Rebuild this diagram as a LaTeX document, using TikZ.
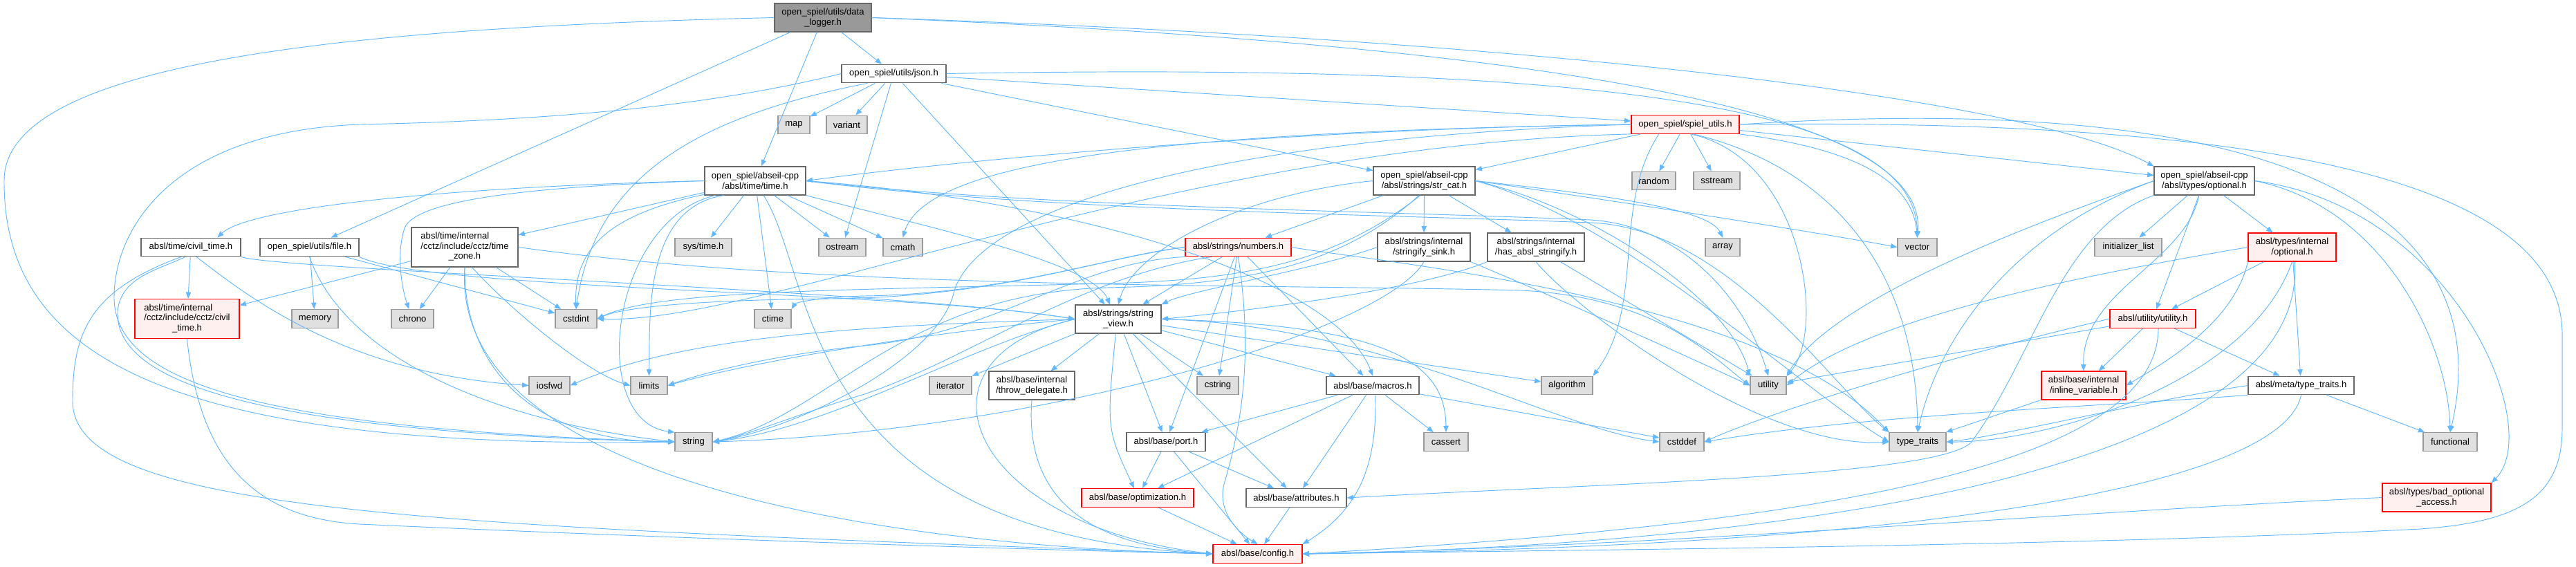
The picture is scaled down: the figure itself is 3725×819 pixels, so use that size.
\documentclass[tikz,border=0pt]{standalone}
\usepackage{fontspec}
\setmainfont{Liberation Sans}
\usepackage{tikz}
\usetikzlibrary{arrows.meta}

\definecolor{edgeblue}{HTML}{63B8FF}
\definecolor{sysfill}{HTML}{E0E0E0}
\definecolor{sysline}{HTML}{999999}
\definecolor{hdrline}{HTML}{666666}
\definecolor{truncfill}{HTML}{FFF0F0}
\definecolor{truncline}{HTML}{FF0000}
\definecolor{rootfill}{HTML}{999999}

\begin{document}
\begin{tikzpicture}[
x=0.75pt, y=-0.75pt,
hdr/.style={draw=hdrline, fill=white, line width=0.9pt, inner sep=1pt, align=center, font=\fontsize{9.8}{10.8}\selectfont, minimum height=20pt},
sys/.style={hdr, draw=sysline, fill=sysfill},
trunc/.style={hdr, draw=truncline, fill=truncfill},
root/.style={hdr, fill=rootfill},
bw/.style={minimum width=#1*0.75pt},
two/.style={minimum height=30.75pt},
three/.style={minimum height=42.75pt},
arrow/.style={-{Triangle[length=7pt,width=5.5pt]}, edgeblue, line width=0.7pt}
]
\useasboundingbox (0,0) rectangle (3725,819);
\fill[white] (0,0) rectangle (3725,819);

% rows of the include graph
\node[root, bw=140, two] (logger) at (1190,25.5) {open\_spiel/utils/data\\\_logger.h};
\node[hdr, bw=151] (json) at (1292.5,106.5) {open\_spiel/utils/json.h};
\node[sys, bw=46] (map) at (1148,180.5) {map};
\node[sys, bw=59] (variant) at (1224.5,180.5) {variant};
\node[trunc, bw=156] (spielutils) at (2437,180) {open\_spiel/spiel\_utils.h};
\node[hdr, bw=146, two] (time) at (1092,261.5) {open\_spiel/abseil-cpp\\/absl/time/time.h};
\node[hdr, bw=147, two] (strcat) at (2059.5,261.5) {open\_spiel/abseil-cpp\\/absl/strings/str\_cat.h};
\node[sys, bw=63] (random) at (2391.5,261.5) {random};
\node[sys, bw=67] (sstream) at (2482.5,261.5) {sstream};
\node[hdr, bw=145, two] (optional) at (3187.5,261.5) {open\_spiel/abseil-cpp\\/absl/types/optional.h};
\node[hdr, bw=144] (civiltime) at (276,357.5) {absl/time/civil\_time.h};
\node[hdr, bw=143] (file) at (447.5,357.5) {open\_spiel/utils/file.h};
\node[hdr, bw=154, three] (timezone) at (672,357.5) {\begin{tabular}{@{}l@{}}absl/time/internal\\/cctz/include/cctz/time\\\multicolumn{1}{@{}c@{}}{\_zone.h}\end{tabular}};
\node[sys, bw=82] (systime) at (1017,357.5) {sys/time.h};
\node[sys, bw=68] (ostream) at (1218,357.5) {ostream};
\node[sys, bw=57] (cmath) at (1305.5,357.5) {cmath};
\node[trunc, bw=153] (numbers) at (1790.5,357.5) {absl/strings/numbers.h};
\node[hdr, bw=134, two] (sink) at (2059,357.5) {absl/strings/internal\\/stringify\_sink.h};
\node[hdr, bw=140, two] (hasstringify) at (2221,357.5) {absl/strings/internal\\/has\_absl\_stringify.h};
\node[sys, bw=50] (array) at (2491,357.5) {array};
\node[sys, bw=57] (vector) at (2772.5,357.5) {vector};
\node[sys, bw=97] (initlist) at (3077.5,357.5) {initializer\_list};
\node[trunc, bw=127, two] (intoptional) at (3314.5,357.5) {absl/types/internal\\/optional.h};
\node[trunc, bw=151, three] (cctzcivil) at (270.5,461) {\begin{tabular}{@{}l@{}}absl/time/internal\\/cctz/include/cctz/civil\\\multicolumn{1}{@{}c@{}}{\_time.h}\end{tabular}};
\node[sys, bw=67] (memory) at (455.5,461) {memory};
\node[sys, bw=61] (chrono) at (596.5,461) {chrono};
\node[sys, bw=60] (cstdint) at (833,461) {cstdint};
\node[sys, bw=53] (ctime) at (1117.5,461) {ctime};
\node[hdr, bw=124, two] (stringview) at (1617,461.5) {absl/strings/string\\\_view.h};
\node[trunc, bw=124] (utilityh) at (3113,461) {absl/utility/utility.h};
\node[sys, bw=59] (iosfwd) at (794.5,557.5) {iosfwd};
\node[sys, bw=53] (limits) at (938.5,557.5) {limits};
\node[sys, bw=61] (iterator) at (1374.5,557.5) {iterator};
\node[hdr, bw=124, two] (throwdel) at (1492,557.5) {absl/base/internal\\/throw\_delegate.h};
\node[sys, bw=60] (cstring) at (1761,557.5) {cstring};
\node[hdr, bw=134] (macros) at (1985,557.5) {absl/base/macros.h};
\node[sys, bw=74] (algorithm) at (2266,557.5) {algorithm};
\node[sys, bw=52] (utility) at (2557,557.5) {utility};
\node[trunc, bw=122, two] (inlinevar) at (3013,557.5) {absl/base/internal\\/inline\_variable.h};
\node[hdr, bw=153] (metatraits) at (3327.5,557.5) {absl/meta/type\_traits.h};
\node[sys, bw=54] (string) at (1003,639) {string};
\node[hdr, bw=114] (port) at (1686,639) {absl/base/port.h};
\node[sys, bw=64] (cassert) at (2091,639) {cassert};
\node[sys, bw=64] (cstddef) at (2432,639) {cstddef};
\node[sys, bw=82] (typetraits) at (2773,639) {type\_traits};
\node[sys, bw=78] (functional) at (3543,639) {functional};
\node[trunc, bw=162] (optimization) at (1645,720) {absl/base/optimization.h};
\node[hdr, bw=145] (attributes) at (1874.5,720) {absl/base/attributes.h};
\node[trunc, bw=157, two] (badaccess) at (3523.5,719.5) {absl/types/bad\_optional\\\_access.h};
\node[trunc, bw=129] (config) at (1818.5,801) {absl/base/config.h};

% short includes
\foreach \a/\b in {logger/file, logger/time, logger/json, json/map, json/variant, json/ostream,
  json/stringview, json/strcat, json/spielutils, time/timezone, time/systime, time/ostream,
  time/cmath, time/ctime, civiltime/cctzcivil, file/memory, file/cstdint, timezone/cctzcivil,
  timezone/chrono, timezone/cstdint, spielutils/random, spielutils/sstream, spielutils/strcat,
  spielutils/optional, strcat/numbers, strcat/sink, strcat/hasstringify, numbers/stringview,
  numbers/cstring, numbers/macros, numbers/port, hasstringify/utility, stringview/throwdel,
  stringview/cstring, stringview/macros, stringview/port, stringview/attributes,
  stringview/algorithm, macros/cassert, macros/cstddef, macros/port, macros/optimization,
  macros/attributes, port/optimization, port/attributes, port/config, optimization/config,
  attributes/config, optional/initlist, optional/intoptional, optional/utilityh,
  intoptional/utilityh, intoptional/metatraits, utilityh/utility, utilityh/inlinevar,
  utilityh/metatraits, metatraits/functional, inlinevar/typetraits}
  \draw[arrow] (\a) -- (\b);
\draw[arrow] (stringview.south west) -- (iterator.north east);

% long includes
\draw[arrow] (logger.west) .. controls (500,40) and (8,90) .. (6,260) .. controls (4,520) and (250,650) .. (string.west);
\draw[arrow] (logger.east) .. controls (2100,60) and (2790,140) .. (vector.north);
\draw[arrow] (logger.east) .. controls (2300,60) and (2950,150) .. (optional.north west);

\draw[arrow] (json.west) .. controls (1000,160) and (750,175) .. (520,180) .. controls (250,190) and (165,330) .. (165,430) .. controls (165,560) and (400,620) .. (string.west);
\draw[arrow] (json.200) .. controls (1000,170) and (860,260) .. (cstdint.north);
\draw[arrow] (json.east) .. controls (2300,90) and (2770,150) .. (vector.north);

\draw[arrow] (time.west) .. controls (650,270) and (360,300) .. (civiltime.20);
\draw[arrow] (time.west) .. controls (760,270) and (600,290) .. (585,330) .. controls (572,370) and (582,420) .. (chrono.110);
\draw[arrow] (time.195) .. controls (880,310) and (830,360) .. (cstdint.north);
\draw[arrow] (time.200) .. controls (880,320) and (850,610) .. (string.north west);
\draw[arrow] (time.205) .. controls (930,300) and (940,460) .. (limits.north);
\draw[arrow] (time.south east) .. controls (1350,330) and (1580,380) .. (stringview.120);
\draw[arrow] (time.east) .. controls (1550,290) and (1930,400) .. (macros.north);
\draw[arrow] (time.300) .. controls (1180,400) and (1150,770) .. (config.west);
\draw[arrow] (time.east) .. controls (1500,300) and (2000,305) .. (2300,318) .. controls (2420,325) and (2520,420) .. (utility.north);
\draw[arrow] (time.east) .. controls (1500,305) and (2000,310) .. (2300,322) .. controls (2500,330) and (2650,560) .. (typetraits.north west);

\draw[arrow] (civiltime.300) .. controls (360,430) and (500,540) .. (iosfwd.west);
\draw[arrow] (civiltime.240) .. controls (230,390) and (175,400) .. (170,450) .. controls (165,560) and (400,625) .. (string.west);
\draw[arrow] (civiltime.225) .. controls (130,420) and (105,480) .. (105,580) .. controls (105,740) and (600,760) .. (config.west);
\draw[arrow] (civiltime.south east) .. controls (400,390) and (1300,420) .. (stringview.west);
\draw[arrow] (cctzcivil.south) .. controls (290,680) and (380,750) .. (520,758) .. controls (1000,780) and (1500,795) .. (config.west);

\draw[arrow] (file.south) .. controls (500,520) and (720,610) .. (string.west);
\draw[arrow] (file.south east) .. controls (620,420) and (1300,420) .. (stringview.west);

\draw[arrow] (timezone.290) .. controls (740,450) and (850,540) .. (limits.west);
\draw[arrow] (timezone.south) .. controls (670,520) and (760,640) .. (string.west);
\draw[arrow] (timezone.east) .. controls (1200,420) and (1800,410) .. (2200,420) .. controls (2400,430) and (2480,520) .. (utility.west);
\draw[arrow] (timezone.south) .. controls (650,700) and (1300,790) .. (config.west);

\draw[arrow] (spielutils.west) .. controls (1900,185) and (1400,230) .. (time.east);
\draw[arrow] (spielutils.west) .. controls (1700,190) and (1340,230) .. (cmath.north);
\draw[arrow] (spielutils.190) .. controls (1700,210) and (1100,470) .. (cstdint.east);
\draw[arrow] (spielutils.west) .. controls (1750,200) and (1420,300) .. (1380,420) .. controls (1360,520) and (1150,620) .. (string.east);
\draw[arrow] (spielutils.south east) .. controls (2680,215) and (2765,260) .. (vector.north);
\draw[arrow] (spielutils.300) .. controls (2610,230) and (2640,480) .. (utility.north east);
\draw[arrow] (spielutils.310) .. controls (2640,240) and (2770,380) .. (typetraits.north);
\draw[arrow] (spielutils.200) .. controls (2330,300) and (2380,440) .. (algorithm.north east);
\draw[arrow] (spielutils.east) .. controls (3450,120) and (3600,380) .. (functional.north);
\draw[arrow] (spielutils.east) .. controls (3350,170) and (3700,280) .. (3705,480) -- (3705,620) .. controls (3705,720) and (3640,755) .. (3500,765) .. controls (3000,790) and (2300,795) .. (config.east);

\draw[arrow] (strcat.west) .. controls (1800,280) and (1640,360) .. (stringview.north);
\draw[arrow] (strcat.east) .. controls (2300,280) and (2470,300) .. (array.north);
\draw[arrow] (strcat.east) .. controls (2400,300) and (2650,340) .. (vector.west);
\draw[arrow] (strcat.255) .. controls (1930,380) and (1800,405) .. (1600,410) .. controls (1200,420) and (950,420) .. (cstdint.east);
\draw[arrow] (strcat.250) .. controls (1940,385) and (1800,412) .. (1600,416) .. controls (1300,425) and (1200,600) .. (string.east);
\draw[arrow] (strcat.east) .. controls (2350,320) and (2600,560) .. (typetraits.west);
\draw[arrow] (strcat.east) .. controls (2300,300) and (2500,430) .. (utility.north west);

\draw[arrow] (numbers.west) .. controls (1600,370) and (1450,430) .. (1200,432) .. controls (1000,434) and (900,445) .. (cstdint.east);
\draw[arrow] (numbers.west) .. controls (1600,372) and (1450,425) .. (1250,428) .. controls (1180,430) and (1150,438) .. (ctime.north east);
\draw[arrow] (numbers.south west) .. controls (1550,380) and (1450,480) .. (1250,500) .. controls (1100,515) and (1000,545) .. (limits.east);
\draw[arrow] (numbers.200) .. controls (1560,400) and (1400,520) .. (1250,570) .. controls (1150,600) and (1080,630) .. (string.east);
\draw[arrow] (numbers.east) .. controls (2000,380) and (2550,430) .. (typetraits.north west);
\draw[arrow] (numbers.south) .. controls (1810,500) and (1800,600) .. (1770,700) .. controls (1760,740) and (1790,770) .. (config.north);

\draw[arrow] (sink.west) .. controls (1900,390) and (1720,420) .. (stringview.north east);
\draw[arrow] (sink.south) .. controls (2000,480) and (1500,625) .. (string.east);
\draw[arrow] (sink.south east) .. controls (2250,430) and (2450,520) .. (utility.west);
\draw[arrow] (hasstringify.south west) .. controls (2050,420) and (1800,450) .. (stringview.east);
\draw[arrow] (hasstringify.south) .. controls (2280,450) and (2550,650) .. (typetraits.west);

\draw[arrow] (stringview.260) .. controls (1600,620) .. (optimization.110);
\draw[arrow] (stringview.east) .. controls (2000,470) and (2250,620) .. (cstddef.west);
\draw[arrow] (stringview.east) .. controls (2000,470) and (2090,520) .. (cassert.north);
\draw[arrow] (stringview.west) .. controls (1300,520) and (1400,760) .. (config.west);
\draw[arrow] (stringview.west) .. controls (1400,500) and (1200,620) .. (string.east);
\draw[arrow] (stringview.west) .. controls (1300,470) and (1000,480) .. (iosfwd.east);
\draw[arrow] (stringview.west) .. controls (1350,480) and (1100,520) .. (limits.east);
\draw[arrow] (macros.285) .. controls (1992,680) and (1960,740) .. (config.north east);
\draw[arrow] (throwdel.south) .. controls (1480,740) and (1600,790) .. (config.west);

\draw[arrow] (optional.west) .. controls (2950,320) and (2650,430) .. (utility.north east);
\draw[arrow] (optional.west) .. controls (2900,340) and (2800,500) .. (typetraits.north);
\draw[arrow] (optional.south west) .. controls (2980,330) and (2940,520) .. (2850,640) .. controls (2800,690) and (2300,700) .. (attributes.east);
\draw[arrow] (optional.250) .. controls (3160,380) and (3010,420) .. (inlinevar.north);
\draw[arrow] (optional.east) .. controls (3450,300) and (3540,500) .. (functional.north);
\draw[arrow] (optional.east) .. controls (3550,300) and (3680,620) .. (badaccess.north east);

\draw[arrow] (intoptional.south west) .. controls (3230,470) and (3120,530) .. (inlinevar.east);
\draw[arrow] (intoptional.south) .. controls (3250,560) and (2950,640) .. (typetraits.east);
\draw[arrow] (intoptional.west) .. controls (3000,400) and (2700,460) .. (utility.east);
\draw[arrow] (intoptional.280) .. controls (3340,700) and (2500,790) .. (config.east);
\draw[arrow] (utilityh.west) .. controls (2800,520) and (2550,600) .. (cstddef.east);
\draw[arrow] (utilityh.300) .. controls (3120,680) and (2600,760) .. (config.east);
\draw[arrow] (metatraits.west) .. controls (3100,580) and (2900,630) .. (typetraits.east);
\draw[arrow] (metatraits.south west) .. controls (3000,590) and (2700,600) .. (cstddef.east);
\draw[arrow] (metatraits.south) .. controls (3300,700) and (2800,790) .. (config.east);
\draw[arrow] (badaccess.west) .. controls (3000,740) and (2400,790) .. (config.east);
\end{tikzpicture}
\end{document}
